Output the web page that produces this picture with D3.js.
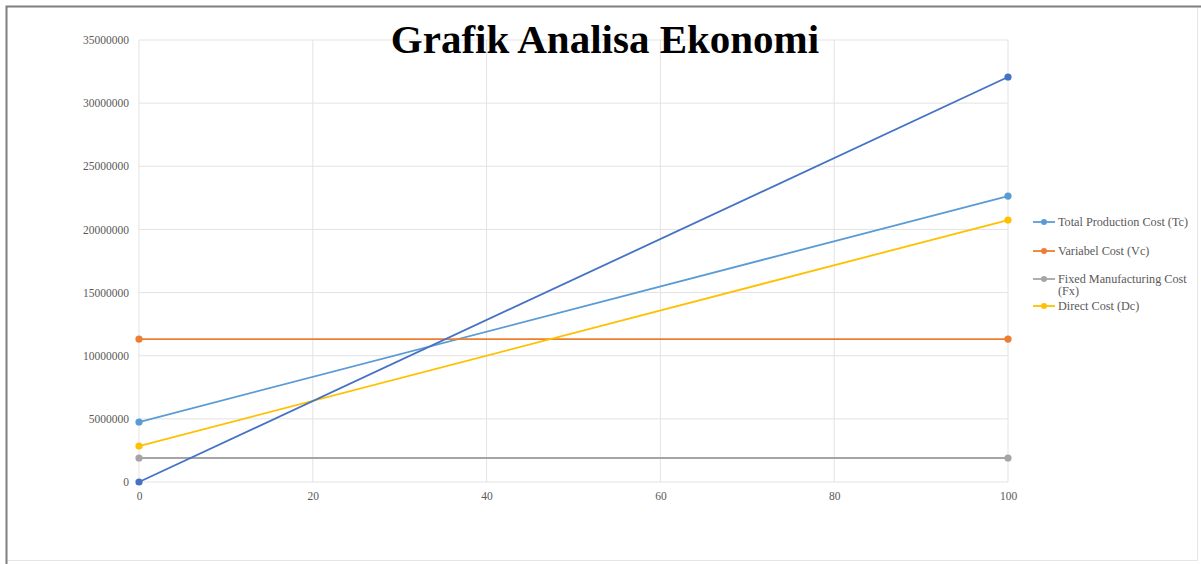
<!DOCTYPE html>
<html>
<head>
<meta charset="utf-8">
<script src="https://cdn.jsdelivr.net/npm/d3@7"></script>
<style>
  body { margin: 0; background: #fff; }
  svg { display: block; font-family: "Liberation Serif", "Times New Roman", serif; }
</style>
</head>
<body>
<div id="chart"></div>
<script>
// data
const xValues = [0, 100];
const xTicks = [0, 20, 40, 60, 80, 100];
const yTicks = [0, 5000000, 10000000, 15000000, 20000000, 25000000, 30000000, 35000000];

const seriesNames = ["Total Production Cost (Tc)", "Variabel Cost (Vc)", "Fixed Manufacturing Cost (Fx)", "Direct Cost (Dc)", "Sales (Sa)"];
const tcValues = [4750000, 22640000];
const vcValues = [11320000, 11320000];
const fxValues = [1900000, 1900000];
const dcValues = [2850000, 20740000];
const saValues = [0, 32070000];
const seriesColors = ["#5B9BD5", "#ED7D31", "#A5A5A5", "#FFC000", "#4472C4"];
const legendCount = 4; // only four entries are visible in the legend

const W = 1201, H = 564;
const svg = d3.select("#chart").append("svg")
    .attr("width", W)
    .attr("height", H);

// chart frame
svg.append("rect")
    .attr("x", 6.5).attr("y", 6.5)
    .attr("width", W - 10).attr("height", H - 10)
    .attr("fill", "#fff")
    .attr("stroke", "#e6e6e6");
svg.append("path")
    .attr("d", `M6.5,${H} V6.5 H${W}`)
    .attr("fill", "none")
    .attr("stroke", "#7f7f7f")
    .attr("stroke-width", 2);

const x = d3.scaleLinear().domain([0, 100]).range([139, 1008]);
const y = d3.scaleLinear().domain([0, 35000000]).range([482, 40]);

// gridlines
svg.append("g")
    .selectAll("line.h")
    .data(yTicks)
    .join("line")
    .attr("x1", x(0)).attr("x2", x(100))
    .attr("y1", d => y(d)).attr("y2", d => y(d))
    .attr("stroke", "#e3e3e3");

svg.append("g")
    .selectAll("line.v")
    .data(xTicks)
    .join("line")
    .attr("x1", d => x(d)).attr("x2", d => x(d))
    .attr("y1", y(0)).attr("y2", y(35000000))
    .attr("stroke", "#e3e3e3");

// axes
const yAxis = svg.append("g")
    .attr("transform", `translate(${x(0)},0)`)
    .call(d3.axisLeft(y).tickValues(yTicks).tickFormat(d3.format("d")).tickSize(0).tickPadding(10));
const xAxis = svg.append("g")
    .attr("transform", `translate(0,${y(0)})`)
    .call(d3.axisBottom(x).tickValues(xTicks).tickFormat(d3.format("d")).tickSize(0).tickPadding(10));
[yAxis, xAxis].forEach(a => {
    a.select(".domain").remove();
    a.selectAll("text")
        .attr("font-family", "Liberation Serif, serif")
        .attr("font-size", 11.5)
        .attr("fill", "#595959");
});

// title
svg.append("text")
    .attr("x", 605)
    .attr("y", 53)
    .attr("text-anchor", "middle")
    .attr("font-size", 41)
    .attr("font-weight", "bold")
    .attr("fill", "#000")
    .text("Grafik Analisa Ekonomi");

// series
const allSeries = [tcValues, vcValues, fxValues, dcValues, saValues].map((vals, i) => ({
    name: seriesNames[i],
    color: seriesColors[i],
    points: xValues.map((xv, j) => ({ x: xv, y: vals[j] }))
}));

const line = d3.line()
    .x(d => x(d.x))
    .y(d => y(d.y));

allSeries.forEach(s => {
    svg.append("path")
        .datum(s.points)
        .attr("d", line)
        .attr("fill", "none")
        .attr("stroke", s.color)
        .attr("stroke-width", 1.8);
    svg.append("g")
        .selectAll("circle")
        .data(s.points)
        .join("circle")
        .attr("cx", d => x(d.x))
        .attr("cy", d => y(d.y))
        .attr("r", 3.6)
        .attr("fill", s.color);
});

// legend
const legend = svg.append("g")
    .attr("transform", "translate(1033,0)");
const legendRows = [222, 251, 279, 306];
allSeries.slice(0, legendCount).forEach((s, i) => {
    const row = legend.append("g")
        .attr("transform", `translate(0,${legendRows[i]})`);
    row.append("line")
        .attr("x1", 0).attr("x2", 22)
        .attr("stroke", s.color)
        .attr("stroke-width", 1.8);
    row.append("circle")
        .attr("cx", 11)
        .attr("r", 3)
        .attr("fill", s.color);
    const t = row.append("text")
        .attr("x", 25)
        .attr("y", 4)
        .attr("font-size", 12.2)
        .attr("fill", "#595959");
    if (s.name === "Fixed Manufacturing Cost (Fx)") {
        t.append("tspan").attr("x", 25).text("Fixed Manufacturing Cost");
        t.append("tspan").attr("x", 25).attr("dy", 12).text("(Fx)");
    } else {
        t.text(s.name);
    }
});
</script>
</body>
</html>
